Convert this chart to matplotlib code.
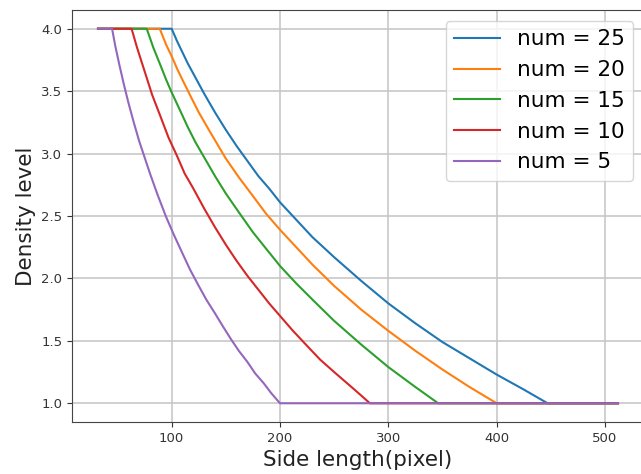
import matplotlib
matplotlib.use('Agg')
import matplotlib.pyplot as plt

# values (side length -> density level)
x_25 = [32, 100, 105, 110, 115, 120, 130, 140, 150, 160, 170, 180, 190, 200, 215, 230, 250, 275,
        300, 325, 350, 375, 400, 425, 447, 512]
y_25 = [4.0, 4.0, 3.90, 3.81, 3.72, 3.64, 3.48, 3.33, 3.19, 3.06, 2.94, 2.82, 2.72, 2.61, 2.47,
        2.33, 2.17, 1.98, 1.80, 1.64, 1.49, 1.36, 1.23, 1.11, 1.0, 1.0]

x_20 = [32, 89, 95, 100, 105, 110, 118, 125, 135, 150, 162, 175, 187, 200, 215, 230, 250, 275,
        300, 325, 350, 375, 400, 512]
y_20 = [4.0, 4.0, 3.87, 3.78, 3.68, 3.59, 3.45, 3.33, 3.18, 2.96, 2.81, 2.66, 2.52, 2.39, 2.25,
        2.11, 1.94, 1.75, 1.58, 1.42, 1.27, 1.13, 1.0, 1.0]

x_15 = [32, 77, 83, 90, 95, 100, 107, 115, 122, 130, 140, 150, 162, 175, 187, 200, 215, 230,
        250, 275, 300, 325, 346, 512]
y_15 = [4.0, 4.0, 3.85, 3.70, 3.59, 3.49, 3.36, 3.21, 3.09, 2.97, 2.82, 2.68, 2.53, 2.37, 2.24,
        2.10, 1.96, 1.83, 1.66, 1.47, 1.29, 1.13, 1.0, 1.0]

x_10 = [32, 63, 68, 75, 82, 90, 97, 105, 112, 120, 130, 140, 150, 160, 170, 180, 190, 200,
        212, 225, 237, 250, 270, 283, 512]
y_10 = [4.0, 4.0, 3.85, 3.66, 3.47, 3.29, 3.13, 2.98, 2.84, 2.72, 2.56, 2.41, 2.27, 2.14, 2.02,
        1.91, 1.80, 1.70, 1.58, 1.46, 1.35, 1.25, 1.10, 1.0, 1.0]

x_5 = [32, 45, 48, 52, 56, 60, 65, 70, 75, 80, 87, 95, 102, 110, 117, 125, 132, 140, 147, 155,
       162, 170, 177, 185, 192, 200, 512]
y_5 = [4.0, 4.0, 3.86, 3.70, 3.55, 3.41, 3.25, 3.10, 2.97, 2.84, 2.67, 2.49, 2.35, 2.20, 2.07,
       1.94, 1.83, 1.72, 1.62, 1.51, 1.42, 1.33, 1.24, 1.16, 1.08, 1.0, 1.0]

series = [
    ('num = 25', x_25, y_25, '#1f77b4'),
    ('num = 20', x_20, y_20, '#ff7f0e'),
    ('num = 15', x_15, y_15, '#2ca02c'),
    ('num = 10', x_10, y_10, '#d62728'),
    ('num = 5', x_5, y_5, '#9467bd'),
]

fig = plt.figure(figsize=(6.41, 4.74), dpi=100)
ax = fig.add_axes([72 / 641, 1 - 422 / 474, 572 / 641, 412 / 474])

for label, xs, ys, color in series:
    ax.plot(xs, ys, color=color, linewidth=1.5, label=label)

ax.set_xticks([100, 200, 300, 400, 500])
ax.set_yticks([1.0, 1.5, 2.0, 2.5, 3.0, 3.5, 4.0])
ax.tick_params(labelsize=9.5, colors='#333333')
ax.grid(True, color='#c8c8c8', linewidth=1.2)
ax.set_axisbelow(True)
for s in ax.spines.values():
    s.set_color('#444444')

ax.set_xlabel('Side length(pixel)', fontsize=15.5, color='#222222')
ax.set_ylabel('Density level', fontsize=15.5, color='#222222')
ax.legend(loc='upper right', fontsize=15.5, handlelength=2.1)

plt.savefig('out.png', dpi=100)
